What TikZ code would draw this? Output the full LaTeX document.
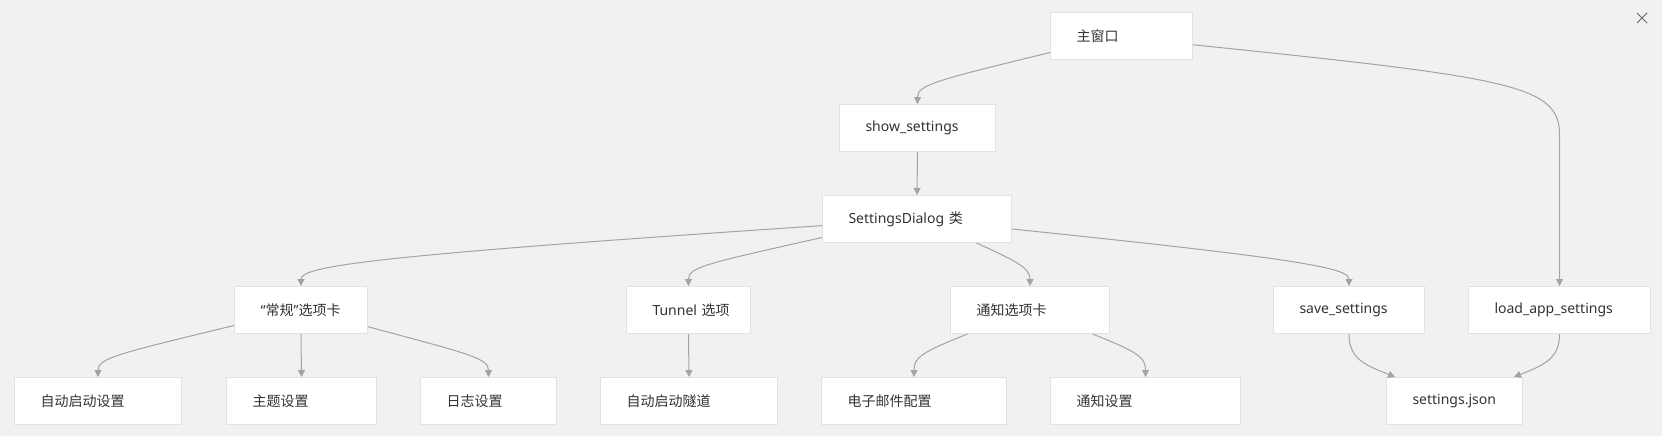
\documentclass[tikz,border=0pt]{standalone}
\usepackage{fontspec}
\setmainfont{Noto Sans}
\newfontfamily\cjk{Noto Sans CJK SC}
\usetikzlibrary{arrows.meta}
\definecolor{canvas}{HTML}{F2F1EF}
\definecolor{cardline}{HTML}{E2E2E2}
\definecolor{linkgray}{HTML}{A3A3A3}
\definecolor{cardtext}{HTML}{333333}
\newcommand\pad{\hspace*{26pt}}
\tikzset{
  card/.style = {draw=cardline, fill=white, line width=1pt, anchor=north west,
    inner xsep=0pt, inner ysep=0pt, minimum height=47pt, text width=#1,
    align=left, text=cardtext, font=\fontsize{14}{17}\selectfont},% box, text on the left
  link/.style = {draw=linkgray, line width=1pt,
    -{Triangle[length=7pt,width=7pt]}},% gray connector
  closemark/.style = {draw=black!60, line width=1pt}% window close cross
}
\begin{document}
\begin{tikzpicture}[x=1pt,y=-1pt]
\fill[canvas] (0,0) rectangle (1662,436);
% upper rows
\node[card=142pt] (main) at (1050,12) {\pad{\cjk 主窗口}};
\node[card=156pt] (show) at (839,104) {\pad show\_settings};
\node[card=189pt] (dialog) at (822,195) {\pad SettingsDialog {\cjk 类}};
% tabs and functions
\node[card=133pt] (general) at (234,286) {\pad “{\cjk 常规}”{\cjk 选项卡}};
\node[card=124pt] (tunnel) at (626,286) {\pad Tunnel {\cjk 选项}};
\node[card=159pt] (notify) at (950,286) {\pad{\cjk 通知选项卡}};
\node[card=151pt] (save) at (1273,286) {\pad save\_settings};
\node[card=182pt] (load) at (1468,286) {\pad load\_app\_settings};
% leaves
\node[card=167pt] (autostart) at (14,377) {\pad{\cjk 自动启动设置}};
\node[card=150pt] (theme) at (226,377) {\pad{\cjk 主题设置}};
\node[card=136pt] (log) at (420,377) {\pad{\cjk 日志设置}};
\node[card=177pt] (autotunnel) at (600,377) {\pad{\cjk 自动启动隧道}};
\node[card=185pt] (email) at (821,377) {\pad{\cjk 电子邮件配置}};
\node[card=190pt] (notifyset) at (1050,377) {\pad{\cjk 通知设置}};
\node[card=136pt] (json) at (1386,377) {\pad settings.json};

\draw[link] (main.193) .. controls +(-115,28) and +(0,-19) .. (show.north);
\draw[link] (main.-7) .. controls +(320,33) and +(0,-50) .. ([yshift=151pt]load.north)
  -- (load.north);
\draw[link] (show.south) -- (dialog.north);
\draw[link] (dialog.184) .. controls +(-450,30) and +(0,-20) .. (general.north);
\draw[link] (dialog.191) .. controls +(-115,26) and +(0,-19) .. (tunnel.north);
\draw[link] (dialog.-22) .. controls +(40,18) and +(0,-18) .. (notify.north);
\draw[link] (dialog.-6) .. controls +(290,30) and +(0,-18) .. (save.north);
\draw[link] (general.193) .. controls +(-115,28) and +(0,-19) .. (autostart.north);
\draw[link] (general.south) -- (theme.north);
\draw[link] (general.-14) .. controls +(100,27) and +(0,-19) .. (log.north);
\draw[link] (tunnel.south) -- (autotunnel.north);
\draw[link] (notify.201) .. controls +(-45,18) and +(0,-20) .. (email.north);
\draw[link] (notify.-21) .. controls +(45,18) and +(0,-20) .. (notifyset.north);
\draw[link] (save.south) .. controls +(0,25) and +(-30,-12) .. (json.158);
\draw[link] (load.south) .. controls +(0,25) and +(30,-12) .. (json.22);

\draw[closemark] (1637,13) -- (1647,23) (1647,13) -- (1637,23);
\end{tikzpicture}
\end{document}
